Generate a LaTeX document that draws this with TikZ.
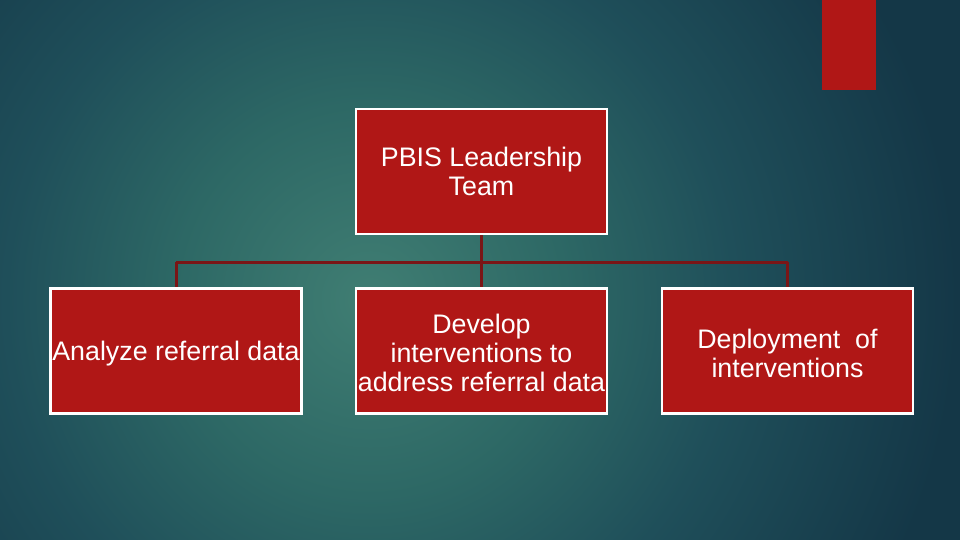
\documentclass[tikz,border=0pt]{standalone}
\usepackage{fontspec}
\setmainfont{Liberation Sans}
\definecolor{cin}{HTML}{407E73}
\definecolor{cmid}{HTML}{2D6865}
\definecolor{cmid2}{HTML}{1F4F5A}
\definecolor{cout}{HTML}{143747}
\definecolor{boxred}{HTML}{B01716}
\definecolor{linered}{HTML}{7A1516}
\pgfdeclareradialshading{bgshade}{\pgfpoint{0bp}{0bp}}{color(0bp)=(cin); color(7bp)=(cmid); color(13bp)=(cmid2); color(21bp)=(cout); color(50bp)=(cout)}
\tikzset{
  orgbox/.style={draw=white, line width=2.5pt, fill=boxred,
    minimum width=251pt, minimum height=125pt, inner sep=0pt},
  orgtext/.style={text=white, inner sep=0pt, align=center,
    font=\fontsize{26.8}{29}\selectfont},
  conn/.style={draw=linered, line width=3pt}
}
\begin{document}
\begin{tikzpicture}[x=1pt,y=-1pt]
\useasboundingbox (0,0) rectangle (960,540);
\begin{scope}
\clip (0,0) rectangle (960,540);
\shade[shading=bgshade] (370,300) circle (700);
\end{scope}
\fill[boxred] (822,0) rectangle (876,90);
\node[orgbox] (top) at (481.5,171.5) {};
\node[orgbox] (a) at (176,351) {};
\node[orgbox] (b) at (481.5,351) {};
\node[orgbox] (c) at (787.5,351) {};
\node[orgtext] (toptext) at ([yshift=0.5pt]top.center) {PBIS Leadership\\Team};
\node[orgtext] (atext) at ([yshift=-2.5pt]a.center) {Analyze referral data};
\node[orgtext] (btext) at ([yshift=-1.5pt]b.center) {Develop\\interventions to\\address referral data};
\node[orgtext] (ctext) at ([yshift=-2pt]c.center) {Deployment\ \ of\\interventions};
\coordinate (hub) at (481.5,262);
\draw[conn] (top.south) -- (hub);
\draw[conn] (hub -| a.north) -- (hub -| c.north);
\draw[conn] (hub -| a.north) -- (a.north);
\draw[conn] (hub) -- (b.north);
\draw[conn] (hub -| c.north) -- (c.north);
\end{tikzpicture}
\end{document}
